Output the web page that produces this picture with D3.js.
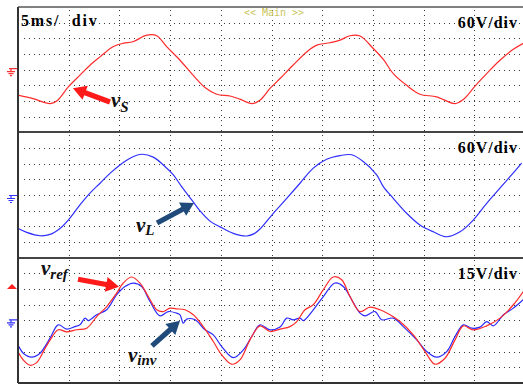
<!DOCTYPE html>
<html>
<head>
<meta charset="utf-8">
<script src="https://cdn.jsdelivr.net/npm/d3@7"></script>
<style>
  html, body { margin: 0; padding: 0; background: #fff; }
  svg { display: block; }
</style>
</head>
<body>
<svg id="scope" width="523" height="385"></svg>
<script>
// Time base: 5 ms/div, 10 divisions; 8 vertical divisions per channel panel.
const timeDomain = [0, 50];

// Channel 1: grid voltage v_S (60 V/div) — [ms, V]
const vS = [
  [0,-98],[1.48,-111],[3.16,-130],[3.82,-120],[4.96,-66],[6.11,-21],[7.10,17],[8.09,49],
  [9.37,88],[10.36,101],[11.34,107],[12.69,132],[13.68,130],[14.66,88],[15.98,36],[17.26,-21],
  [18.44,-68],[19.60,-94],[20.91,-101],[21.89,-113],[23.05,-130],[23.86,-117],[24.85,-72],
  [25.84,-34],[27.12,17],[28.47,68],[29.46,94],[30.77,103],[31.76,113],[32.74,130],[33.73,129],
  [35.04,81],[36.03,39],[37.01,-15],[38.33,-60],[39.64,-94],[41.29,-104],[43.10,-130],
  [43.92,-114],[45.07,-63],[46.22,-15],[47.53,36],[48.85,78],[49.83,101]
];

// Channel 2: load voltage v_L (60 V/div) — [ms, V]
const vL = [
  [0,-128],[0.86,-143],[2.17,-156],[3.16,-151],[4.14,-128],[4.96,-96],[6.11,-38],[7.10,7],
  [8.09,45],[9.07,83],[10.06,115],[11.05,141],[12.20,156],[13.34,145],[14.33,115],[15.32,77],
  [16.14,32],[17.13,-19],[17.95,-61],[18.93,-100],[19.92,-122],[21.23,-147],[22.55,-157],
  [23.30,-148],[23.87,-130],[25.18,-70],[26.50,-13],[27.81,45],[29.12,103],[30.44,137],
  [31.76,151],[32.91,154],[34.05,128],[35.37,77],[36.03,32],[37.01,-13],[38.33,-70],
  [39.64,-115],[40.96,-141],[42.28,-160],[43.59,-141],[44.90,-96],[46.22,-32],[47.53,26],
  [48.52,70],[49.67,122]
];

// Channel 3: reference v_ref (15 V/div) — [ms, V]
const vRef = [
  [0,-30],[0.52,-38],[1.18,-43],[1.84,-40.5],[2.50,-30],[3.16,-19],[3.97,-9],[4.80,-11],
  [5.79,-9],[6.78,-7.5],[7.76,3.6],[8.75,13.2],[9.73,26.1],[10.38,35.7],[11.21,41.5],
  [12.03,35.7],[12.85,22.8],[13.68,10.1],[14.33,8.4],[14.99,11.7],[15.58,11.0],[16.47,10.1],
  [17.29,5.3],[18.27,-6.0],[19.26,-20.3],[20.09,-33.1],[21.07,-42.0],[21.89,-37.9],
  [22.88,-18.7],[23.87,-5.3],[24.85,-10.7],[25.84,-8.4],[26.82,-6.0],[27.49,-1.2],
  [28.30,10.1],[29.12,14.9],[30.11,29.3],[31.09,41.5],[31.92,38.9],[32.74,22.8],[33.73,8.4],
  [34.71,12.7],[35.70,10.1],[36.69,5.3],[37.67,-1.2],[38.99,-13.9],[40.14,-29.9],[41.12,-42.0],
  [42.11,-36.3],[43.10,-18.7],[43.92,-5.3],[44.90,-9.1],[46.22,-5.3],[47.53,2.1],[48.85,14.9],
  [49.83,27.6]
];

// Channel 4: inverter output v_inv (15 V/div) — [ms, V]
const vInv = [
  [0,-23.5],[0.52,-31.5],[1.35,-35.3],[2.17,-31.5],[3.16,-17.1],[3.97,-4.3],[4.80,-8.4],
  [5.62,-6.0],[6.11,-4.3],[6.61,2.1],[6.93,-0.2],[7.76,5.3],[8.75,10.1],[9.73,24.5],
  [10.55,32.4],[11.37,35.7],[12.20,32.4],[13.02,18.0],[14.00,4.3],[14.82,8.4],[15.64,6.9],
  [15.98,5.3],[16.30,-2.7],[16.64,1.2],[17.46,0.5],[18.44,-9.1],[19.26,-13.9],[20.09,-25.1],
  [21.23,-35.7],[22.22,-28.3],[23.05,-15.5],[23.87,-4.3],[24.85,-9.1],[25.84,-6.5],
  [26.50,2.1],[27.15,0.5],[27.81,2.1],[28.14,-0.2],[29.12,10.1],[30.11,22.8],[31.26,35.7],
  [32.08,32.4],[32.91,19.7],[33.73,6.9],[34.22,4.3],[35.21,8.4],[35.87,0.5],[37.01,2.1],
  [38.00,-6.0],[39.32,-18.7],[40.31,-29.9],[41.29,-35.3],[42.28,-29.9],[43.10,-15.5],
  [43.92,-4.3],[44.75,-7.5],[45.56,-6.5],[46.22,-1.2],[46.88,-5.3],[47.87,5.3],[48.85,11.7],
  [49.83,19.7]
];

// Scale factor labels (V/div) per panel
const voltsPerDiv = [60, 60, 15];
const scaleLabels = ["60V/div", "60V/div", "15V/div"];
const timeLabel = "5ms/  div";

// Panel geometry
const W = 523;
const left = 18, right = 525;
const top0 = 7, panelH = 125.33;
const nDivX = 10, nDivY = 8;

const svg = d3.select("#scope");

const x = d3.scaleLinear().domain(timeDomain).range([left, right]);

const panels = voltsPerDiv.map((vpd, i) => {
  const t = top0 + i * panelH;
  return {
    top: t,
    bottom: t + panelH,
    y: d3.scaleLinear().domain([-4 * vpd, 4 * vpd]).range([t + panelH, t])
  };
});

const fullTop = top0, fullBottom = top0 + 3 * panelH;

// Dotted graticule
const grid = svg.append("g").attr("stroke", "#3a3a3a").attr("stroke-width", 1)
  .attr("stroke-dasharray", "1,4").attr("shape-rendering", "crispEdges");
const xTicks = d3.range(1, nDivX).map(k => timeDomain[0] + k * (timeDomain[1] - timeDomain[0]) / nDivX);
grid.selectAll("line.v").data(xTicks).join("line")
  .attr("x1", d => Math.round(x(d)) + 0.5).attr("x2", d => Math.round(x(d)) + 0.5)
  .attr("y1", fullTop + 3).attr("y2", fullBottom);
panels.forEach((p, i) => {
  const vpd = voltsPerDiv[i];
  const yTicks = d3.range(-3, 4).map(k => k * vpd);
  grid.selectAll(null).data(yTicks).join("line")
    .attr("x1", left + 6).attr("x2", W)
    .attr("y1", d => Math.round(p.y(d)) + 0.5).attr("y2", d => Math.round(p.y(d)) + 0.5);
});

// Frame
const frame = svg.append("g").attr("shape-rendering", "crispEdges");
frame.append("line").attr("x1", left).attr("x2", W).attr("y1", fullTop).attr("y2", fullTop)
  .attr("stroke", "#808080").attr("stroke-width", 2);
[1, 2].forEach(i => {
  frame.append("line").attr("x1", left).attr("x2", W)
    .attr("y1", panels[i].top).attr("y2", panels[i].top)
    .attr("stroke", "#444").attr("stroke-width", 2);
});
frame.append("line").attr("x1", left).attr("x2", W).attr("y1", fullBottom).attr("y2", fullBottom)
  .attr("stroke", "#333").attr("stroke-width", 2);
frame.append("line").attr("x1", left).attr("x2", left).attr("y1", fullTop).attr("y2", fullBottom)
  .attr("stroke", "#333").attr("stroke-width", 2);

// Menu caption
svg.append("text").attr("x", 274).attr("y", 16).attr("text-anchor", "middle")
  .attr("font-family", "DejaVu Sans Mono, monospace").attr("font-size", 10)
  .attr("fill", "#c9c45a").style("white-space", "pre").text("<< Main >>");

// Ground reference markers
function groundMarker(yPos, color) {
  const g = svg.append("g").attr("stroke", color).attr("stroke-width", 1.2).attr("fill", "none");
  g.append("path").attr("d", `M17,${yPos} H9 M11,${yPos} V${yPos + 3}`);
  g.append("path").attr("d", `M7,${yPos + 3} H15 M8.5,${yPos + 5} H13.5 M10,${yPos + 7} H12`);
}
groundMarker(panels[0].y(0) - 1, "#ff3030");
groundMarker(panels[1].y(0) + 0.5, "#3030ff");
groundMarker(panels[2].y(0) - 0.5, "#3030ff");
// trigger level marker on channel 3
{
  const yTrig = panels[2].y(2 * voltsPerDiv[2]);
  svg.append("path")
    .attr("d", `M7,${yTrig} H17 L12,${yTrig - 5} Z`)
    .attr("fill", "#ff2020");
}

// Traces
const traceDefs = [
  { data: vS, panel: 0, color: "#ff2b2b" },
  { data: vL, panel: 1, color: "#2f2fff" },
  { data: vInv, panel: 2, color: "#2a2aff" },
  { data: vRef, panel: 2, color: "#ff2b2b" }
];
svg.append("clipPath").attr("id", "plotClip").append("rect")
  .attr("x", left + 1).attr("y", fullTop).attr("width", W - left).attr("height", fullBottom - fullTop);
const traces = svg.append("g").attr("clip-path", "url(#plotClip)");
traceDefs.forEach(d => {
  const p = panels[d.panel];
  const line = d3.line().x(e => x(e[0])).y(e => p.y(e[1])).curve(d3.curveCatmullRom.alpha(0.5));
  traces.append("path").datum(d.data).attr("d", line)
    .attr("fill", "none").attr("stroke", d.color).attr("stroke-width", 1.2)
    .attr("stroke-linejoin", "round");
});

// Scale labels
const serif = "Liberation Serif, Times New Roman, serif";
panels.forEach((p, i) => {
  svg.append("text").attr("x", 518).attr("y", p.top + 21).attr("text-anchor", "end")
    .attr("font-family", serif).attr("font-weight", "bold").attr("font-size", 16)
    .attr("letter-spacing", 1).text(scaleLabels[i]);
});
svg.append("text").attr("x", 21).attr("y", 26)
  .attr("font-family", serif).attr("font-weight", "bold").attr("font-size", 16)
  .attr("letter-spacing", 1.8).style("white-space", "pre")
  .text(timeLabel);

// Annotation arrows (tail → tip in data units) and signal names
const annotations = [
  { panel: 0, tail: [9.07, -124], tip: [5.42, -71], color: "#ff1a1a",
    label: [9.17, -144], sub: "S", subDx: 0, subDy: 5 },
  { panel: 1, tail: [13.71, -107], tip: [17.36, -31], color: "#1f4a7a",
    label: [11.64, -142], sub: "L", subDx: 0, subDy: 3 },
  { panel: 2, tail: [5.92, 39.3], tip: [9.96, 32.1], color: "#ff1a1a",
    label: [2.27, 43.7], sub: "ref", subDx: 0, subDy: 4 },
  { panel: 2, tail: [13.21, -24.5], tip: [15.98, -0.5], color: "#1f4a7a",
    label: [10.85, -39.8], sub: "inv", subDx: 0, subDy: 3 }
];
function arrowPath(x0, y0, x1, y1) {
  const dx = x1 - x0, dy = y1 - y0, L = Math.hypot(dx, dy);
  const ux = dx / L, uy = dy / L, nx = -uy, ny = ux;
  const headL = 13, headW = 7.5, shaftW = 2.6;
  const bx = x1 - ux * headL, by = y1 - uy * headL;
  const pts = [
    [x0 + nx * shaftW, y0 + ny * shaftW],
    [bx + nx * shaftW, by + ny * shaftW],
    [bx + nx * headW, by + ny * headW],
    [x1, y1],
    [bx - nx * headW, by - ny * headW],
    [bx - nx * shaftW, by - ny * shaftW],
    [x0 - nx * shaftW, y0 - ny * shaftW]
  ];
  return "M" + pts.map(q => q.join(",")).join("L") + "Z";
}
annotations.forEach(a => {
  const p = panels[a.panel];
  svg.append("path")
    .attr("d", arrowPath(x(a.tail[0]), p.y(a.tail[1]), x(a.tip[0]), p.y(a.tip[1])))
    .attr("fill", a.color);
  const t = svg.append("text").attr("x", x(a.label[0])).attr("y", p.y(a.label[1]))
    .attr("font-family", serif).attr("font-style", "italic").attr("font-weight", "bold")
    .attr("font-size", 21).attr("fill", "#111");
  t.append("tspan").text("v");
  t.append("tspan").attr("dx", a.subDx).attr("dy", a.subDy).attr("font-size", 15).text(a.sub);
});
</script>
</body>
</html>
